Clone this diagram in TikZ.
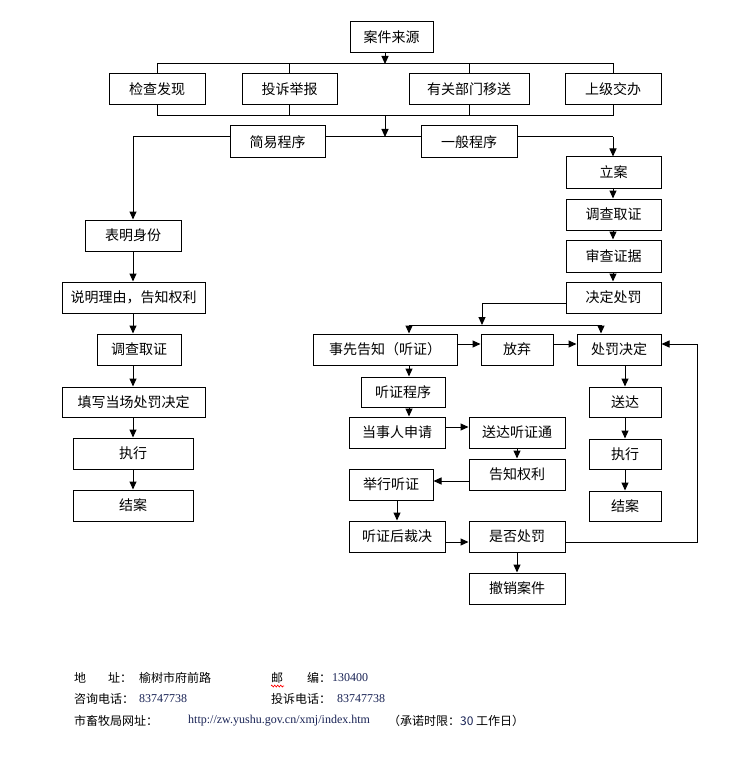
\documentclass[tikz,border=0pt]{standalone}
\usepackage{fontspec}
\newfontfamily\cjk{Noto Sans CJK SC}
\newfontfamily\tnr{Liberation Serif}
\usetikzlibrary{arrows.meta,decorations.pathmorphing}
\definecolor{numblue}{RGB}{25,35,85}
\newcommand\mybox[6]{\node[box,minimum width=#4pt,minimum height=#5pt] (#1) at (#2,#3) {#6};}
\begin{document}
\begin{tikzpicture}[x=1pt,y=-1pt,
  box/.style={draw, line width=1pt, fill=white, inner sep=0pt, font=\cjk\fontsize{14}{16}\selectfont},
  arr/.style={line width=1pt, -{Triangle[length=8pt,width=7pt]}},
  ln/.style={line width=1pt},
  foot/.style={anchor=west, inner sep=0pt, font=\cjk\fontsize{12}{14}\selectfont},
  num/.style={anchor=west, inner sep=0pt, font=\tnr\fontsize{12}{14}\selectfont, text=numblue}]
\fill[white] (0,0) rectangle (754,770);
\useasboundingbox (0,0) rectangle (754,770);

% ---- top
\mybox{src}{391.5}{37.5}{83}{31}{案件来源}
\mybox{jc}{157}{89.5}{96}{31}{检查发现}
\mybox{ts}{289.5}{89.5}{95}{31}{投诉举报}
\mybox{yg}{469}{89.5}{120}{31}{有关部门移送}
\mybox{sj}{613}{89.5}{96}{31}{上级交办}
\mybox{jy}{277.5}{142}{95}{32}{简易程序}
\mybox{yb}{469}{142}{96}{32}{一般程序}

% ---- left column
\mybox{bm}{133}{235.5}{96}{31}{表明身份}
\mybox{sm}{133.5}{297.5}{143}{31}{说明理由，告知权利}
\mybox{dq}{139}{349.5}{84}{31}{调查取证}
\mybox{tx}{133.5}{402}{143}{30}{填写当场处罚决定}
\mybox{zx}{133}{453.5}{120}{31}{执行}
\mybox{ja}{133}{505.5}{120}{31}{结案}

% ---- right column
\mybox{la}{613.5}{172.5}{95}{31}{立案}
\mybox{dq2}{613.5}{214.5}{95}{31}{调查取证}
\mybox{sc}{613.5}{256}{95}{32}{审查证据}
\mybox{jd}{613.5}{297.5}{95}{31}{决定处罚}
\mybox{sx}{385}{349.5}{144}{31}{事先告知（听证）}
\mybox{fq}{517}{349.5}{72}{31}{放弃}
\mybox{cf}{619}{349.5}{84}{31}{处罚决定}
\mybox{tz}{403}{392}{84}{30}{听证程序}
\mybox{ds}{397}{432.5}{96}{31}{当事人申请}
\mybox{sd}{517}{432.5}{96}{31}{送达听证通}
\mybox{gz}{517}{474.5}{96}{31}{告知权利}
\mybox{jx}{391}{484.5}{84}{31}{举行听证}
\mybox{hc}{397}{536.5}{96}{31}{听证后裁决}
\mybox{sf}{517}{536.5}{96}{31}{是否处罚}
\mybox{cx}{517}{588.5}{96}{31}{撤销案件}
\mybox{ss}{625}{402}{72}{30}{送达}
\mybox{zx2}{625}{454}{72}{30}{执行}
\mybox{ja2}{625}{506}{72}{30}{结案}

% ---- helper coordinates
\coordinate (tb) at (0,64);
\coordinate (bb) at (0,116);
\coordinate (hl) at (0,137);
\coordinate (tbc) at (385,64);
\coordinate (bbc) at (385,116);
\coordinate (hlc) at (385,137);
\coordinate (L) at (133,137);
\coordinate (R) at (613,137);
\coordinate (lx) at (133,0);
\coordinate (rx) at (613,0);
\coordinate (jdl) at (0,303);
\coordinate (b2) at (482,325);
\coordinate (bl) at (409,325);
\coordinate (br) at (601,325);
\coordinate (r1) at (0,344);
\coordinate (hx) at (409,0);
\coordinate (r2) at (0,427);
\coordinate (r3) at (0,481);
\coordinate (jxx) at (397,0);
\coordinate (r4) at (0,542);
\coordinate (fb) at (697,0);
\coordinate (cx6) at (625,0);

% ---- top connectors
\draw[arr] (src.south -| tbc) -- (tbc);
\draw[ln] (jc.north) -- (jc.north |- tb) -- (sj.north |- tb) -- (sj.north);
\draw[ln] (ts.north) -- (ts.north |- tb);
\draw[ln] (yg.north) -- (yg.north |- tb);
\draw[ln] (jc.south) -- (jc.south |- bb) -- (sj.south |- bb) -- (sj.south);
\draw[ln] (ts.south) -- (ts.south |- bb);
\draw[ln] (yg.south) -- (yg.south |- bb);
\draw[arr] (bbc) -- (hlc);
\draw[ln] (L) -- (jy.west |- hl);
\draw[ln] (jy.east |- hl) -- (yb.west |- hl);
\draw[ln] (yb.east |- hl) -- (R);
\draw[arr] (L) -- (bm.north -| L);
\draw[arr] (R) -- (la.north -| R);

% ---- left column
\draw[arr] (bm.south -| lx) -- (sm.north -| lx);
\draw[arr] (sm.south -| lx) -- (dq.north -| lx);
\draw[arr] (dq.south -| lx) -- (tx.north -| lx);
\draw[arr] (tx.south -| lx) -- (zx.north -| lx);
\draw[arr] (zx.south -| lx) -- (ja.north -| lx);

% ---- right column
\draw[arr] (la.south -| rx) -- (dq2.north -| rx);
\draw[arr] (dq2.south -| rx) -- (sc.north -| rx);
\draw[arr] (sc.south -| rx) -- (jd.north -| rx);
\draw[arr] (jd.west |- jdl) -| (b2);
\draw[ln] (bl) -- (br);
\draw[arr] (bl) -- (sx.north -| bl);
\draw[arr] (br) -- (cf.north -| br);
\draw[arr] (sx.east |- r1) -- (fq.west |- r1);
\draw[arr] (fq.east |- r1) -- (cf.west |- r1);
\draw[arr] (sx.south -| hx) -- (tz.north -| hx);
\draw[arr] (tz.south -| hx) -- (ds.north -| hx);
\draw[arr] (ds.east |- r2) -- (sd.west |- r2);
\draw[arr] (sd.south) -- (gz.north);
\draw[arr] (gz.west |- r3) -- (jx.east |- r3);
\draw[arr] (jx.south -| jxx) -- (hc.north -| jxx);
\draw[arr] (hc.east |- r4) -- (sf.west |- r4);
\draw[arr] (sf.south) -- (cx.north);
\draw[arr] (sf.east |- r4) -- (fb |- r4) -- (fb |- r1) -- (cf.east |- r1);
\draw[arr] (cf.south -| cx6) -- (ss.north -| cx6);
\draw[arr] (ss.south -| cx6) -- (zx2.north -| cx6);
\draw[arr] (zx2.south -| cx6) -- (ja2.north -| cx6);

% ---- footer
\node[foot] (f1) at (74,678) {地};
\node[foot] (f2) at (108,678) {址：};
\node[foot] (f3) at (139,678) {榆树市府前路};
\node[foot] (f4) at (271,678) {邮};
\node[foot] (f5) at (307,678) {编：};
\node[num] (f6) at (332,678) {130400};
\node[foot] (f7) at (74,699) {咨询电话：};
\node[num] (f8) at (139,699) {83747738};
\node[foot] (f9) at (271,699) {投诉电话：};
\node[num] (f10) at (337,699) {83747738};
\node[foot] (f11) at (74,721) {市畜牧局网址：};
\node[num] (f12) at (188,721) {http://zw.yushu.gov.cn/xmj/index.htm};
\node[foot] (f13) at (388,721) {（承诺时限：{\color{numblue}30} 工作日）};
\draw[red, line width=0.6pt, decorate, decoration={zigzag, segment length=3pt, amplitude=1pt}] (271,686) -- (284,686);
\end{tikzpicture}
\end{document}
